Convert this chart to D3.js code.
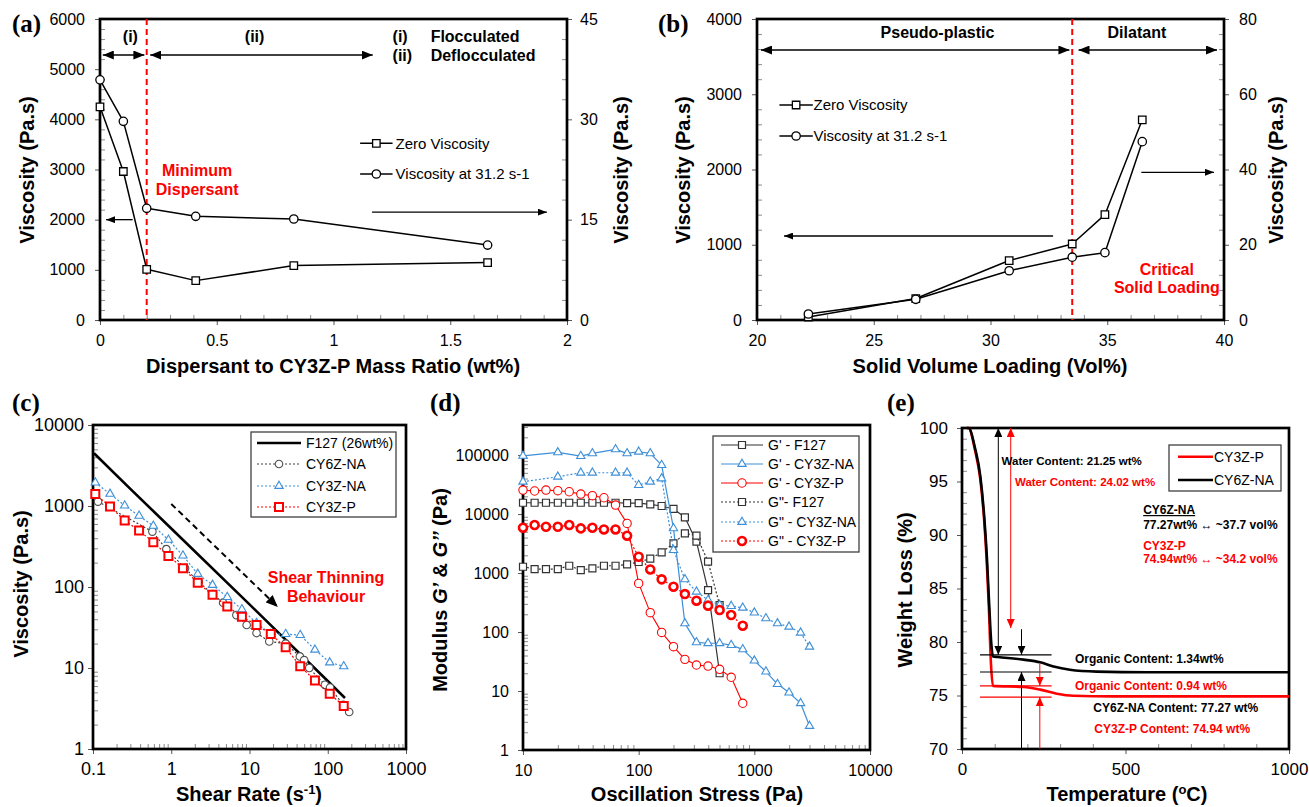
<!DOCTYPE html>
<html><head><meta charset="utf-8">
<script src="https://cdn.jsdelivr.net/npm/d3@7"></script>
<style>body{margin:0;background:#fff}svg{display:block}</style>
</head><body>
<svg id="chart" width="1309" height="807"></svg>
<script>
// ================= DATA =================
// (a)
const aRatio = [0, 0.1, 0.2, 0.41, 0.83, 1.66];
const aZeroVisc = [4250, 2960, 1010, 785, 1085, 1145];
const aVisc312 = [35.9, 29.7, 16.7, 15.5, 15.1, 11.2];
const aXTicks = [0, 0.5, 1, 1.5, 2];
const aYTicks = [0, 1000, 2000, 3000, 4000, 5000, 6000];
const aYRTicks = [0, 15, 30, 45];
// (b)
const bLoading = [22.2, 26.8, 30.8, 33.5, 34.9, 36.5];
const bZeroVisc = [40, 285, 790, 1010, 1400, 2660];
const bVisc312 = [1.6, 5.5, 13.1, 16.7, 17.9, 47.4];
const bXTicks = [20, 25, 30, 35, 40];
const bYTicks = [0, 1000, 2000, 3000, 4000];
const bYRTicks = [0, 20, 40, 60, 80];
// (c)
const cF127Rate = [0.103, 0.3, 1, 10, 100, 166];
const cF127Visc = [4480, 1630, 527, 61, 6.9, 4.26];
const cNA6Rate = [0.116, 0.574, 0.866, 1.5, 2.25, 3.37, 4.6, 6.8, 9.2, 12.3, 17.9, 29, 44, 50, 58, 92, 107, 158, 188];
const cNA6Visc = [1133, 483, 293, 171, 115, 82, 64, 45, 34, 27, 21.3, 20, 13.9, 12.5, 10, 6.2, 5.75, 3.5, 2.86];
const c3Rate = [0.107, 0.165, 0.254, 0.388, 0.59, 0.92, 1.41, 2.18, 3.37, 5.2, 8.0, 12.3, 18.7, 29, 44.5, 68.6, 106, 160];
const cNA3Visc = [1945, 1410, 1012, 755, 568, 382, 244, 145, 106, 75, 53, 35.8, 26.2, 26.2, 25.5, 16.8, 11.7, 10.5];
const cP3Visc = [1410, 984, 661, 498, 357, 242, 171, 113, 80, 57.5, 43, 34, 26.2, 18, 10.5, 7, 4.8, 3.4];
const cXTicks = [0.1, 1, 10, 100, 1000];
const cYTicks = [1, 10, 100, 1000, 10000];
// (d)
const dStressF127 = [10, 12.6, 15.8, 20, 25.1, 31.6, 39.8, 50.1, 63.1, 79.4, 100, 126, 158, 200, 251, 316, 398, 501];
const dGpF127 = [15560, 15560, 15560, 15560, 15560, 15560, 15560, 15560, 15560, 15270, 15270, 14600, 13700, 12200, 8800, 3400, 515, 20];
const dGppF127 = [1280, 1170, 1170, 1170, 1330, 1120, 1200, 1330, 1330, 1400, 1540, 1750, 2240, 3180, 4700, 4300, 1560, 287];
const dStressNA = [10, 20, 31.6, 39.8, 63.1, 79.4, 100, 126, 158, 200, 251, 316, 398, 501, 631, 794, 1000, 1259, 1585, 1995, 2512, 3000];
const dGpNA = [97000, 111000, 96000, 107000, 125000, 107000, 114000, 107000, 67700, 5720, 140, 66.8, 64.6, 64.6, 60, 50.8, 32.7, 21.3, 13.1, 9.4, 6.2, 2.55];
const dGppNA = [35300, 42900, 50200, 50200, 50200, 50200, 31000, 35300, 40200, 2450, 782, 483, 348, 287, 276, 258, 213, 171, 140, 123, 97.5, 56.4];
const dStressP = [10, 12.6, 15.8, 20, 25.1, 31.6, 39.8, 50.1, 63.1, 79.4, 100, 126, 158, 200, 251, 316, 398, 501, 631, 794];
const dGpP = [25500, 24600, 25500, 24900, 23900, 21800, 20500, 18900, 14200, 6950, 668, 213, 98.6, 56.4, 34.4, 27.6, 26.5, 23.3, 17.1, 6.2];
const dGppP = [5870, 6510, 6100, 6100, 6510, 5720, 5870, 5490, 5490, 4300, 1890, 1150, 782, 587, 440, 340, 280, 236, 194, 128];
const dXTicks = [10, 100, 1000, 10000];
const dYTicks = [1, 10, 100, 1000, 10000, 100000];
// (e)
const eTempNA = [15, 20, 40, 56, 68, 76, 83, 89.5, 94.6, 109, 188, 239, 280, 330, 412, 565, 1000];
const eWeightNA = [100, 100, 98.1, 95.5, 91.7, 88, 83.6, 79.9, 78.65, 78.6, 78.35, 78.1, 77.7, 77.4, 77.23, 77.17, 77.17];
const eTempP = [15, 20, 40, 56, 68, 76, 82, 88.5, 94.6, 188, 239, 290, 340, 463, 1000];
const eWeightP = [100, 100, 97.9, 95.2, 91.3, 87.3, 83.3, 78.0, 75.9, 75.8, 75.55, 75.17, 74.98, 74.92, 74.92];
const eXTicks = [0, 500, 1000];
const eYTicks = [70, 75, 80, 85, 90, 95, 100];

// ================= HELPERS =================
const svg = d3.select("#chart");
const SANS = "'Liberation Sans', Arial, Helvetica, sans-serif";
const SERIF = "'Liberation Serif', 'Times New Roman', serif";
const BLUE = "#3d8fd8", RED = "#ff0000";

const defs = svg.append("defs");
function mk(id, color, len, wid) {
  defs.append("marker").attr("id", id).attr("viewBox", "0 0 10 10").attr("refX", 10).attr("refY", 5)
    .attr("markerUnits", "userSpaceOnUse").attr("markerWidth", len).attr("markerHeight", wid)
    .attr("preserveAspectRatio", "none").attr("orient", "auto-start-reverse")
    .append("path").attr("d", "M0,0L10,5L0,10Z").attr("fill", color);
}
mk("hA", "#000", 11, 9);
mk("hT", "#000", 9, 7);
mk("hC", "#000", 12, 10);
mk("hE", "#000", 9, 8);
mk("hER", RED, 9, 8);

function text(x, y, s, o = {}) {
  const t = svg.append("text").attr("x", x).attr("y", y)
    .attr("font-family", o.family || SANS).attr("font-size", o.size || 16)
    .attr("font-weight", o.weight || "normal").attr("fill", o.color || "#000")
    .attr("text-anchor", o.anchor || "start");
  if (o.rotate) t.attr("transform", `rotate(-90,${x},${y})`);
  if (o.underline) t.attr("text-decoration", "underline");
  if (o.dy) t.attr("dy", o.dy);
  t.text(s);
  return t;
}
function arrow(x1, y1, x2, y2, o) {
  const p = svg.append("path").attr("d", `M${x1},${y1}L${x2},${y2}`)
    .attr("stroke", o.color || "#000").attr("stroke-width", o.width || 1.3).attr("fill", "none")
    .attr("marker-end", `url(#${o.head})`);
  if (o.both) p.attr("marker-start", `url(#${o.head})`);
  if (o.dash) p.attr("stroke-dasharray", o.dash);
  return p;
}
function logMinor(lo, hi) { const out = []; for (let e = lo; e < hi; e++) for (let k = 2; k <= 9; k++) out.push(k * Math.pow(10, e)); return out; }
function linMinor(a, b, step, major) {
  return d3.range(a, b + step / 2, step).filter(v => Math.abs(v / major - Math.round(v / major)) > 1e-6);
}
function styleAxis(sel, col) {
  sel.select(".domain").remove();
  sel.selectAll(".tick line").attr("stroke", col).attr("stroke-width", 1);
}
function drawAxes(o) {
  const [xl, xr] = o.x.range(); const [yb, yt] = o.y.range();
  const g = svg.append("g");
  const fmt = o.fmt || (d => String(d));
  if (o.xMinor) g.append("g").attr("transform", `translate(0,${yb})`)
    .call(d3.axisBottom(o.x).tickValues(o.xMinor).tickSize(-5).tickFormat(() => "")).call(styleAxis, "#8c8c8c");
  const bx = g.append("g").attr("transform", `translate(0,${yb})`)
    .call(d3.axisBottom(o.x).tickValues(o.xTicks).tickSize(5).tickFormat(fmt)).call(styleAxis, "#555");
  bx.selectAll(".tick text").attr("y", 26).attr("dy", 0).attr("font-size", o.fs).attr("font-family", SANS).attr("fill", "#000");
  if (o.yMinor) g.append("g").attr("transform", `translate(${xl},0)`)
    .call(d3.axisLeft(o.y).tickValues(o.yMinor).tickSize(-5).tickFormat(() => "")).call(styleAxis, "#8c8c8c");
  const ly = g.append("g").attr("transform", `translate(${xl},0)`)
    .call(d3.axisLeft(o.y).tickValues(o.yTicks).tickSize(5).tickFormat(fmt)).call(styleAxis, "#555");
  ly.selectAll(".tick text").attr("x", -o.gapL).attr("font-size", o.fs).attr("font-family", SANS).attr("fill", "#000");
  if (o.yR) {
    if (o.yRMinor) g.append("g").attr("transform", `translate(${xr},0)`)
      .call(d3.axisRight(o.yR).tickValues(o.yRMinor).tickSize(-5).tickFormat(() => "")).call(styleAxis, "#8c8c8c");
    const ry = g.append("g").attr("transform", `translate(${xr},0)`)
      .call(d3.axisRight(o.yR).tickValues(o.yRTicks).tickSize(5).tickFormat(fmt)).call(styleAxis, "#555");
    ry.selectAll(".tick text").attr("x", o.gapR).attr("font-size", o.fs).attr("font-family", SANS).attr("fill", "#000");
  }
  svg.append("rect").attr("x", xl).attr("y", yt).attr("width", xr - xl).attr("height", yb - yt)
    .attr("fill", "none").attr("stroke", "#000").attr("stroke-width", 2.7);
}
function drawSeries(xs, ys, xS, yS, o) {
  const pts = xs.map((v, i) => [xS(v), yS(ys[i])]);
  const line = d3.line().curve(o.curve || d3.curveLinear);
  svg.append("path").attr("d", line(pts)).attr("fill", "none").attr("stroke", o.color)
    .attr("stroke-width", o.width).attr("stroke-dasharray", o.dash || null).attr("stroke-linejoin", "round");
  if (o.symbol) {
    const sym = d3.symbol().type(o.symbol).size(o.size);
    svg.append("g").selectAll("path").data(pts).join("path")
      .attr("transform", d => `translate(${d[0]},${d[1]})`).attr("d", sym)
      .attr("fill", "#fff").attr("stroke", o.mcolor || o.color).attr("stroke-width", o.mwidth || 1.2);
  }
}
function legendItem(x1, x2, y, o, label, tx, fs, tcol) {
  svg.append("line").attr("x1", x1).attr("x2", x2).attr("y1", y).attr("y2", y)
    .attr("stroke", o.color).attr("stroke-width", o.width).attr("stroke-dasharray", o.dash || null);
  if (o.symbol) svg.append("path").attr("transform", `translate(${(x1 + x2) / 2},${y})`)
    .attr("d", d3.symbol().type(o.symbol).size(o.size)()).attr("fill", "#fff")
    .attr("stroke", o.mcolor || o.color).attr("stroke-width", o.mwidth || 1.2);
  text(tx, y, label, { size: fs, dy: "0.35em", color: tcol || "#000" });
}
function titleX(cx, y, parts, size) {
  const t = svg.append("text").attr("x", cx).attr("y", y).attr("text-anchor", "middle")
    .attr("font-family", SANS).attr("font-size", size || 20).attr("font-weight", "bold");
  parts.forEach(p => {
    const s = t.append("tspan").text(p.t);
    if (p.sup) s.attr("dy", -7).attr("font-size", 13);
    if (p.after) s.attr("dy", 7);
    if (p.it) s.attr("font-style", "italic");
  });
  return t;
}

// ================= PANEL (a) =================
const aX = d3.scaleLinear().domain([0, 2]).range([100, 567]);
const aY = d3.scaleLinear().domain([0, 6000]).range([320, 19]);
const aYR = d3.scaleLinear().domain([0, 45]).range([320, 19]);
drawAxes({ x: aX, y: aY, yR: aYR, xTicks: aXTicks, yTicks: aYTicks, yRTicks: aYRTicks,
  xMinor: linMinor(0, 2, 0.1, 0.5), yMinor: linMinor(0, 6000, 200, 1000), yRMinor: linMinor(0, 45, 3, 15),
  fs: 16, gapL: 15, gapR: 13 });
svg.append("line").attr("x1", aX(0.2)).attr("x2", aX(0.2)).attr("y1", aY(6000)).attr("y2", aY(0))
  .attr("stroke", RED).attr("stroke-width", 2).attr("stroke-dasharray", "6,4");
const aSq = { color: "#000", width: 1.5, symbol: d3.symbolSquare, size: 56, mwidth: 1.3 };
const aCi = { color: "#000", width: 1.5, symbol: d3.symbolCircle, size: 55, mwidth: 1.3 };
drawSeries(aRatio, aZeroVisc, aX, aY, aSq);
drawSeries(aRatio, aVisc312, aX, aYR, aCi);
text(aX(0.13), aY(5541), "(i)", { weight: "bold", anchor: "middle" });
text(aX(0.662), aY(5541), "(ii)", { weight: "bold", anchor: "middle" });
arrow(aX(0.012), aY(5282), aX(0.19), aY(5282), { head: "hA", both: true, width: 1.6 });
arrow(aX(0.215), aY(5282), aX(1.168), aY(5282), { head: "hA", both: true, width: 1.6 });
text(aX(1.253), aY(5541), "(i)", { weight: "bold" });
text(aX(1.253), aY(5163), "(ii)", { weight: "bold" });
text(aX(1.416), aY(5541), "Flocculated", { weight: "bold" });
text(aX(1.416), aY(5163), "Deflocculated", { weight: "bold" });
text(aX(0.416), aY(2870), "Minimum", { weight: "bold", anchor: "middle", color: RED });
text(aX(0.416), aY(2492), "Dispersant", { weight: "bold", anchor: "middle", color: RED });
legendItem(aX(1.114), aX(1.253), aY(3522), aSq, "Zero Viscosity", aX(1.266), 15);
legendItem(aX(1.114), aX(1.253), aY(2910), aCi, "Viscosity at 31.2 s-1", aX(1.266), 15);
arrow(aX(0.14), aY(2000), aX(0.026), aY(2000), { head: "hT", width: 1.3 });
arrow(aX(1.165), aY(2150), aX(1.914), aY(2150), { head: "hT", width: 1.3 });
text(12, 32, "(a)", { family: SERIF, size: 25, weight: "bold" });
text(34, 170, "Viscosity (Pa.s)", { size: 20, weight: "bold", anchor: "middle", rotate: true });
text(628, 170, "Viscosity (Pa.s)", { size: 20, weight: "bold", anchor: "middle", rotate: true });
titleX(333, 373, [{ t: "Dispersant to CY3Z-P Mass Ratio (wt%)" }]);

// ================= PANEL (b) =================
const bX = d3.scaleLinear().domain([20, 40]).range([757, 1224]);
const bY = d3.scaleLinear().domain([0, 4000]).range([320, 19]);
const bYR = d3.scaleLinear().domain([0, 80]).range([320, 19]);
drawAxes({ x: bX, y: bY, yR: bYR, xTicks: bXTicks, yTicks: bYTicks, yRTicks: bYRTicks,
  xMinor: linMinor(20, 40, 1, 5), yMinor: linMinor(0, 4000, 200, 1000), yRMinor: linMinor(0, 80, 4, 20),
  fs: 16, gapL: 15, gapR: 15 });
svg.append("line").attr("x1", bX(33.5)).attr("x2", bX(33.5)).attr("y1", bY(4000)).attr("y2", bY(0))
  .attr("stroke", RED).attr("stroke-width", 2).attr("stroke-dasharray", "6,4");
drawSeries(bLoading, bZeroVisc, bX, bY, aSq);
drawSeries(bLoading, bVisc312, bX, bYR, aCi);
text(bX(27.73), bY(3748), "Pseudo-plastic", { weight: "bold", anchor: "middle" });
text(bX(36.27), bY(3748), "Dilatant", { weight: "bold", anchor: "middle" });
arrow(bX(20.17), bY(3588), bX(33.38), bY(3588), { head: "hA", both: true, width: 1.6 });
arrow(bX(33.77), bY(3588), bX(39.7), bY(3588), { head: "hA", both: true, width: 1.6 });
legendItem(bX(20.96), bX(22.39), bY(2857), aSq, "Zero Viscosity", bX(22.42), 15);
legendItem(bX(20.96), bX(22.39), bY(2445), aCi, "Viscosity at 31.2 s-1", bX(22.42), 15);
arrow(bX(32.68), bY(1116), bX(21.16), bY(1116), { head: "hT", width: 1.3 });
arrow(bX(36.46), bY(1963), bX(39.57), bY(1963), { head: "hT", width: 1.3 });
text(bX(37.55), bY(598), "Critical", { weight: "bold", anchor: "middle", color: RED });
text(bX(37.55), bY(359), "Solid Loading", { weight: "bold", anchor: "middle", color: RED });
text(658, 32, "(b)", { family: SERIF, size: 25, weight: "bold" });
text(690, 170, "Viscosity (Pa.s)", { size: 20, weight: "bold", anchor: "middle", rotate: true });
text(1283, 170, "Viscosity (Pa.s)", { size: 20, weight: "bold", anchor: "middle", rotate: true });
titleX(990, 373, [{ t: "Solid Volume Loading (Vol%)" }]);

// ================= PANEL (c) =================
const cX = d3.scaleLog().domain([0.1, 1000]).range([93, 406]);
const cY = d3.scaleLog().domain([1, 10000]).range([749, 425]);
drawAxes({ x: cX, y: cY, xTicks: cXTicks, yTicks: cYTicks, xMinor: logMinor(-1, 3), yMinor: logMinor(0, 4), fs: 18, gapL: 9 });
const cF = { color: "#000", width: 2.6 };
const cG = { color: "#404040", width: 1.2, dash: "2,2", symbol: d3.symbolCircle, size: 45, mcolor: "#505050", mwidth: 1.1 };
const cB = { color: BLUE, width: 1.2, dash: "2,2", symbol: d3.symbolTriangle, size: 30, mwidth: 1.1 };
const cR = { color: RED, width: 1.2, dash: "2,2", symbol: d3.symbolSquare, size: 64, mwidth: 2 };
drawSeries(cF127Rate, cF127Visc, cX, cY, cF);
drawSeries(cNA6Rate, cNA6Visc, cX, cY, cG);
drawSeries(c3Rate, cNA3Visc, cX, cY, cB);
drawSeries(c3Rate, cP3Visc, cX, cY, cR);
arrow(cX(1.0), cY(1060), cX(23), cY(56.6), { head: "hC", width: 2, dash: "6,4" });
text(cX(95), cY(112), "Shear Thinning", { weight: "bold", anchor: "middle", color: RED });
text(cX(95), cY(65), "Behaviour", { weight: "bold", anchor: "middle", color: RED });
svg.append("rect").attr("x", 251).attr("y", 432).attr("width", 145).attr("height", 85)
  .attr("fill", "#fff").attr("stroke", "#404040").attr("stroke-width", 1.3);
legendItem(257, 301, 443, cF, "F127 (26wt%)", 306, 14);
legendItem(257, 301, 464, cG, "CY6Z-NA", 306, 14);
legendItem(257, 301, 486, cB, "CY3Z-NA", 306, 14);
legendItem(257, 301, 507, cR, "CY3Z-P", 306, 14);
text(12, 411, "(c)", { family: SERIF, size: 25, weight: "bold" });
text(28, 584, "Viscosity (Pa.s)", { size: 20, weight: "bold", anchor: "middle", rotate: true });
titleX(249, 801, [{ t: "Shear Rate (s" }, { t: "-1", sup: true }, { t: ")", after: true }]);

// ================= PANEL (d) =================
const dX = d3.scaleLog().domain([10, 10000]).range([523, 870]);
const dY = d3.scaleLog().domain([1, Math.pow(10, 5.51)]).range([750, 425]);
drawAxes({ x: dX, y: dY, xTicks: dXTicks, yTicks: dYTicks, xMinor: logMinor(1, 4), yMinor: logMinor(0, 6).filter(v => v < 3.1e5), fs: 16, gapL: 14 });
const dK1 = { color: "#333", width: 1.2, symbol: d3.symbolSquare, size: 49, mwidth: 1.2 };
const dB1 = { color: BLUE, width: 1.2, symbol: d3.symbolTriangle, size: 30, mwidth: 1.1 };
const dR1 = { color: RED, width: 1.1, symbol: d3.symbolCircle, size: 55, mwidth: 1.1 };
const dK2 = { color: "#333", width: 1.2, dash: "2,2", symbol: d3.symbolSquare, size: 49, mwidth: 1.2 };
const dB2 = { color: BLUE, width: 1.2, dash: "2,2", symbol: d3.symbolTriangle, size: 30, mwidth: 1.1 };
const dR2 = { color: RED, width: 1.2, dash: "2,2", symbol: d3.symbolCircle, size: 50, mwidth: 2.6 };
drawSeries(dStressF127, dGpF127, dX, dY, dK1);
drawSeries(dStressNA, dGpNA, dX, dY, dB1);
drawSeries(dStressP, dGpP, dX, dY, dR1);
drawSeries(dStressF127, dGppF127, dX, dY, dK2);
drawSeries(dStressNA, dGppNA, dX, dY, dB2);
drawSeries(dStressP, dGppP, dX, dY, dR2);
svg.append("rect").attr("x", 713).attr("y", 436).attr("width", 146).attr("height", 116)
  .attr("fill", "#fff").attr("stroke", "#404040").attr("stroke-width", 1.3);
legendItem(721, 763, 445, dK1, "G' - F127", 768, 14);
legendItem(721, 763, 464, dB1, "G' - CY3Z-NA", 768, 14);
legendItem(721, 763, 483, dR1, "G' - CY3Z-P", 768, 14);
legendItem(721, 763, 502, dK2, "G\"- F127", 768, 14);
legendItem(721, 763, 522, dB2, "G\" - CY3Z-NA", 768, 14);
legendItem(721, 763, 541, dR2, "G\" - CY3Z-P", 768, 14);
text(430, 411, "(d)", { family: SERIF, size: 25, weight: "bold" });
(function () {
  const t = svg.append("text").attr("transform", "translate(447,590) rotate(-90)").attr("text-anchor", "middle")
    .attr("font-family", SANS).attr("font-size", 20).attr("font-weight", "bold");
  t.append("tspan").text("Modulus ");
  t.append("tspan").attr("font-style", "italic").text("G’");
  t.append("tspan").text(" & ");
  t.append("tspan").attr("font-style", "italic").text("G’’");
  t.append("tspan").text(" (Pa)");
})();
titleX(697, 801, [{ t: "Oscillation Stress (Pa)" }]);

// ================= PANEL (e) =================
const eX = d3.scaleLinear().domain([0, 1000]).range([962, 1289]);
const eY = d3.scaleLinear().domain([70, 100]).range([749, 428]);
drawAxes({ x: eX, y: eY, xTicks: eXTicks, yTicks: eYTicks, xMinor: linMinor(0, 1000, 100, 500), yMinor: linMinor(70, 100, 1, 5), fs: 17, gapL: 14 });
const eR = { color: RED, width: 2.6, curve: d3.curveMonotoneX };
const eK = { color: "#000", width: 2.6, curve: d3.curveMonotoneX };
drawSeries(eTempP, eWeightP, eX, eY, eR);
drawSeries(eTempNA, eWeightNA, eX, eY, eK);
// reference levels
[[78.8, "#000"], [77.2, "#000"], [75.9, RED], [74.85, RED]].forEach(([w, c]) => {
  svg.append("line").attr("x1", eX(55)).attr("x2", eX(274)).attr("y1", eY(w)).attr("y2", eY(w))
    .attr("stroke", c).attr("stroke-width", 1.1);
});
arrow(eX(111), eY(100), eX(111), eY(78.8), { head: "hE", both: true, width: 1 });
arrow(eX(149), eY(100), eX(149), eY(81.3), { head: "hER", both: true, width: 1, color: RED });
arrow(eX(182), eY(81.2), eX(182), eY(78.8), { head: "hE", width: 1 });
arrow(eX(182), eY(70), eX(182), eY(77.2), { head: "hE", width: 1 });
arrow(eX(238), eY(78.0), eX(238), eY(75.9), { head: "hER", width: 1, color: RED });
arrow(eX(238), eY(70), eX(238), eY(74.85), { head: "hER", width: 1, color: RED });
text(eX(121), eY(96.54), "Water Content: 21.25 wt%", { size: 11.5, weight: "bold" });
text(eX(162), eY(94.58), "Water Content: 24.02 wt%", { size: 11.5, weight: "bold", color: RED });
text(eX(554), eY(91.96), "CY6Z-NA", { size: 12, weight: "bold", underline: true });
text(eX(554), eY(90.56), "77.27wt% ↔ ~37.7 vol%", { size: 12, weight: "bold" });
text(eX(554), eY(88.6), "CY3Z-P", { size: 12, weight: "bold", color: RED });
text(eX(554), eY(87.34), "74.94wt% ↔ ~34.2 vol%", { size: 12, weight: "bold", color: RED });
text(eX(345.6), eY(78.0), "Organic Content: 1.34wt%", { size: 12, weight: "bold" });
text(eX(345.6), eY(75.51), "Organic Content: 0.94 wt%", { size: 12, weight: "bold", color: RED });
text(eX(401.5), eY(73.5), "CY6Z-NA Content: 77.27 wt%", { size: 12, weight: "bold" });
text(eX(404.6), eY(71.54), "CY3Z-P Content: 74.94 wt%", { size: 12, weight: "bold", color: RED });
svg.append("rect").attr("x", 1169).attr("y", 445).attr("width", 112).attr("height", 46)
  .attr("fill", "#fff").attr("stroke", "#404040").attr("stroke-width", 1.3);
legendItem(1178, 1213, 456.7, eR, "CY3Z-P", 1214, 14);
legendItem(1178, 1213, 480, eK, "CY6Z-NA", 1214, 14);
text(887, 411, "(e)", { family: SERIF, size: 25, weight: "bold" });
text(912, 590, "Weight Loss (%)", { size: 20, weight: "bold", anchor: "middle", rotate: true });
titleX(1127, 801, [{ t: "Temperature (" }, { t: "o", sup: true }, { t: "C)", after: true }]);
</script>
</body></html>
